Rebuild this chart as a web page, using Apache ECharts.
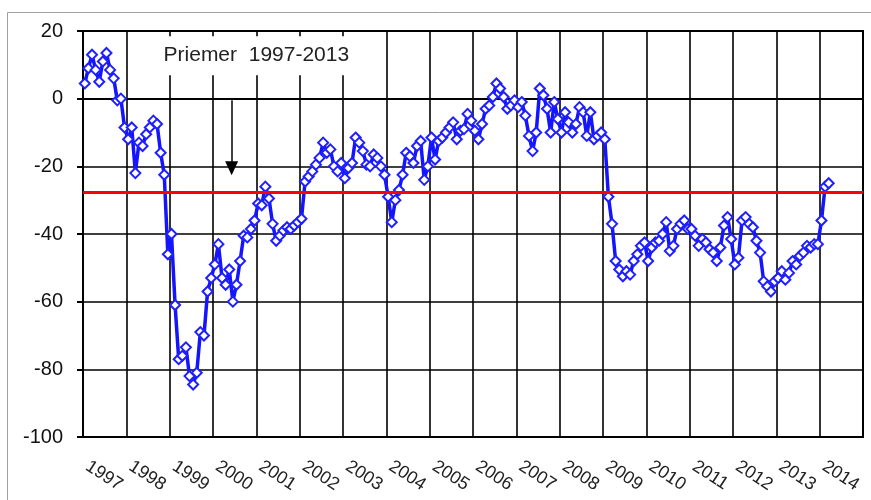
<!DOCTYPE html>
<html>
<head>
<meta charset="utf-8">
<script src="https://cdn.jsdelivr.net/npm/echarts@6/dist/echarts.min.js"></script>
<style>
  html, body { margin: 0; padding: 0; background: #fff; }
  #chart { width: 871px; height: 500px; }
</style>
</head>
<body>
<div id="chart"></div>
<script>
// mesačné hodnoty, jeden riadok na rok
const y1997 = [4.5, 9, 13, 8.5, 5, 11, 13.5, 8.5, 6, -0.5, 0, -8.5]
const y1998 = [-12, -8.5, -22, -13, -14, -10.5, -8.5, -6.5, -7.5, -16, -22.5, -46]
const y1999 = [-40, -61, -77, -76, -73.5, -82, -84.5, -81, -69, -70, -57, -53]
const y2000 = [-49, -43, -53, -55, -50.5, -60, -55, -48, -40.5, -41, -38.5, -36]
const y2001 = [-31, -31.5, -26, -29.5, -37, -42, -40.5, -39, -38, -38.5, -37.5, -36.5]
const y2002 = [-35.5, -24.5, -23, -21.5, -19.5, -17.5, -13, -16, -15, -20, -21.5, -19]
const y2003 = [-23.5, -20.5, -19, -11.5, -13, -15.5, -19.5, -20, -16.5, -17.5, -20, -22.5]
const y2004 = [-29, -36.5, -30, -27, -22.5, -16, -17, -19, -14, -12.5, -24, -20]
const y2005 = [-11.5, -18, -12.5, -11.5, -10, -8.5, -7, -12, -9.5, -9, -4.5, -6.5]
const y2006 = [-9.5, -12, -7.5, -3, -2, 0.5, 4.5, 3, 0.5, -3, -2, -0.5]
const y2007 = [-2.5, -1, -5, -11, -15.5, -10, 3, 1, -3, -10, -1, -6]
const y2008 = [-10, -4, -7, -10, -7.5, -2.5, -4, -11, -4, -12, -11, -10]
const y2009 = [-12, -29, -37, -48, -50.5, -52.5, -51, -52, -48, -46, -43.5, -42.5]
const y2010 = [-48, -44, -42.5, -42, -40, -36.5, -45, -43.5, -38.5, -37, -36, -38.5]
const y2011 = [-38.5, -40.5, -43.5, -41.5, -42.5, -44.5, -45.5, -48, -44, -37.5, -35, -41.5]
const y2012 = [-49, -47, -36, -35, -37, -38, -42, -45.5, -54, -55.5, -57, -54]
const y2013 = [-53, -51, -53.5, -51.5, -48, -49, -46.5, -45.5, -43.5, -44, -43, -43]
const y2014 = [-36, -26, -25]

const years = [1997, 1998, 1999, 2000, 2001, 2002, 2003, 2004, 2005,
  2006, 2007, 2008, 2009, 2010, 2011, 2012, 2013, 2014]
const yearValues = [y1997, y1998, y1999, y2000, y2001, y2002, y2003, y2004, y2005,
  y2006, y2007, y2008, y2009, y2010, y2011, y2012, y2013, y2014]

const yTicks = [-100, -80, -60, -40, -20, 0, 20]
const average = -27.6
const averageLabel = 'Priemer  1997-2013'

// bod v strede mesiaca
const points = []
years.forEach((yr, i) => {
  yearValues[i].forEach((v, m) => points.push([yr + (m + 0.5) / 12, v]))
})

const font = "'Liberation Sans', Arial, sans-serif"
const chart = echarts.init(document.getElementById('chart'))

chart.setOption({
  animation: false,
  backgroundColor: '#fff',
  graphic: [{
    type: 'rect',
    shape: { x: 7.5, y: 12.5, width: 900, height: 600 },
    style: { fill: 'none', stroke: '#a0a0a0', lineWidth: 1 },
    silent: true, z: -1
  }],
  grid: { left: 83, right: 8, top: 31, bottom: 63, show: true, borderColor: '#000', borderWidth: 2 },
  xAxis: {
    type: 'value',
    min: years[0],
    max: years[years.length - 1] + 1,
    interval: 1,
    axisLine: { lineStyle: { color: '#000', width: 2 } },
    axisTick: { show: false },
    splitLine: { lineStyle: { color: '#000', width: 1.6 } },
    axisLabel: {
      rotate: -33,
      margin: 25,
      padding: [0, 0, 0, 5],
      fontSize: 18,
      fontFamily: font,
      color: '#222',
      formatter: v => years.indexOf(v) >= 0 ? String(v) : ''
    }
  },
  yAxis: {
    type: 'value',
    min: yTicks[0],
    max: yTicks[yTicks.length - 1],
    interval: 20,
    axisLine: { show: true, lineStyle: { color: '#000', width: 2 } },
    axisTick: { show: true, length: 6, lineStyle: { color: '#000', width: 2 } },
    splitLine: { lineStyle: { color: '#000', width: 1.6 } },
    axisLabel: { fontSize: 20, margin: 20, fontFamily: font, color: '#111' }
  },
  series: [
    {
      type: 'line',
      data: points,
      z: 3,
      symbol: 'diamond',
      symbolSize: 10,
      lineStyle: { color: '#1414ff', width: 3.5 },
      itemStyle: { color: '#fff', borderColor: '#2020ff', borderWidth: 2 }
    },
    {
      // priemer a popis so šípkou
      type: 'line',
      data: [],
      z: 5,
      markLine: {
        silent: true,
        symbol: 'none',
        label: { show: false },
        lineStyle: { color: '#ff0000', width: 3, type: 'solid' },
        data: [{ yAxis: average }]
      },
      markPoint: {
        silent: true,
        symbol: 'rect',
        symbolSize: 0,
        label: {
          show: true,
          position: 'inside',
          formatter: averageLabel,
          fontSize: 21,
          fontFamily: font,
          color: '#222',
          backgroundColor: '#fff',
          padding: [9, 12]
        },
        data: [{ coord: [2001.0, 12.7] }]
      }
    },
    {
      type: 'line',
      data: [],
      z: 4,
      markLine: {
        silent: true,
        symbol: ['none', 'triangle'],
        symbolSize: [13, 14],
        label: { show: false },
        lineStyle: { color: '#000', width: 1.5, type: 'solid' },
        data: [[{ coord: [2000.43, -0.5] }, { coord: [2000.43, -20.6] }]]
      }
    }
  ]
})
</script>
</body>
</html>
